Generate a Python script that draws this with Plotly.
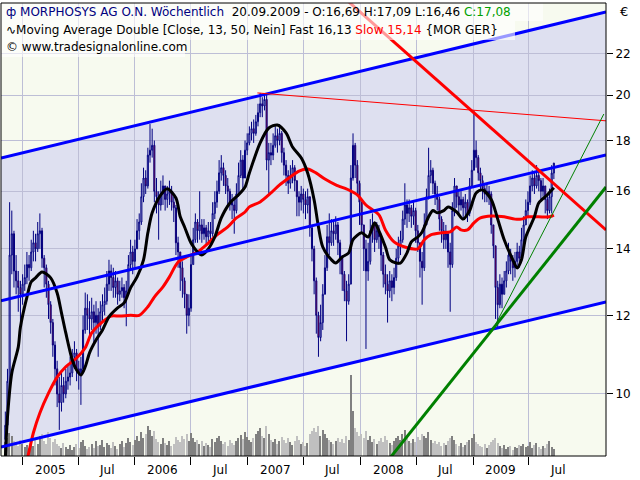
import math
import pandas as pd
import plotly.graph_objects as go

# ---------------- data ----------------
last_week = "2009-09-20"
n_weeks = 255
dates = pd.date_range(end=last_week, periods=n_weeks, freq="7D")

opens = [
    9.0, 9.3, 10.3, 13.8, 14.5, 13.3, 13.0, 12.8, 12.6, 12.9,
    13.1, 13.5, 13.4, 13.9, 14.2, 14.0, 14.5, 14.6, 13.7, 13.4,
    12.9, 12.3, 11.8, 11.2, 10.6, 10.0, 9.8, 10.2, 10.0, 10.3,
    10.4, 10.5, 10.9, 11.0, 10.6, 10.5, 10.6, 11.6, 12.2, 12.0,
    11.9, 12.1, 11.8, 12.0, 11.7, 12.1, 12.3, 12.4, 12.9, 13.3,
    13.1, 12.8, 13.0, 12.6, 12.7, 12.8, 12.5, 12.7, 13.5, 13.9,
    13.6, 14.0, 14.6, 14.9, 15.8, 16.5, 16.2, 17.4, 17.6, 17.8,
    16.0, 15.8, 15.5, 15.9, 16.2, 15.7, 15.9, 16.0, 15.6, 15.4,
    14.2, 13.9, 13.4, 13.0, 12.6, 12.0, 12.2, 13.5, 14.3, 14.9,
    14.6, 14.8, 14.5, 14.7, 14.4, 14.6, 14.5, 15.2, 15.6, 16.0,
    16.7, 16.9, 16.6, 16.2, 16.0, 15.6, 15.5, 15.3, 15.9, 16.6,
    17.2, 16.5, 17.6, 17.9, 18.3, 18.5, 18.3, 18.8, 19.2, 19.6,
    19.5, 19.8, 17.2, 17.5, 17.4, 17.8, 18.2, 18.0, 18.3, 17.5,
    17.0, 16.6, 16.3, 16.6, 16.9, 16.4, 15.8, 15.6, 15.9, 15.7,
    15.5, 15.8, 14.7, 14.0, 13.0, 12.0, 11.4, 11.8, 12.6, 13.4,
    14.4, 14.2, 14.6, 14.5, 14.8, 14.2, 13.7, 13.2, 12.7, 12.4,
    12.9, 16.5, 17.8, 17.0, 16.3, 15.6, 14.8, 14.0, 13.3, 13.6,
    14.6, 14.8, 14.3, 14.6, 14.4, 13.8, 13.2, 12.9, 12.7, 13.0,
    12.8, 13.1, 13.7, 14.1, 14.3, 15.0, 15.5, 15.2, 15.4, 15.1,
    15.3, 14.6, 14.2, 13.6, 13.4, 14.8, 15.8, 16.6, 16.8, 16.3,
    15.9, 15.7, 15.0, 14.6, 14.3, 14.5, 13.9, 13.5, 15.3, 16.2,
    15.8, 15.5, 15.7, 15.4, 15.6, 15.2, 16.2, 16.8, 17.6, 17.3,
    16.7, 16.4, 16.1, 15.9, 16.0, 15.9, 14.8, 14.1, 12.8, 12.3,
    12.9, 12.6, 13.0, 13.3, 13.8, 13.6, 13.4, 13.6, 13.9, 13.7,
    14.3, 14.8, 15.3, 15.6, 16.2, 16.5, 16.2, 16.6, 16.4, 16.0,
    16.2, 15.7, 15.3, 15.8, 16.69,
]
highs = [
    9.6, 10.6, 15.6, 15.3, 14.6, 13.8, 13.3, 13.0, 13.2, 13.5,
    13.9, 13.8, 14.3, 14.6, 14.5, 14.9, 15.2, 14.7, 13.8, 13.5,
    13.0, 12.4, 11.9, 11.3, 10.8, 10.4, 10.5, 10.4, 10.6, 10.7,
    10.9, 11.1, 11.3, 11.1, 10.8, 10.9, 12.0, 12.65, 12.6, 12.4,
    12.5, 12.3, 12.4, 12.2, 12.4, 12.6, 12.8, 13.3, 13.65, 13.5,
    13.4, 13.3, 13.1, 13.0, 13.1, 12.9, 13.0, 13.8, 14.3, 14.1,
    14.3, 15.0, 15.2, 16.3, 16.9, 16.8, 17.7, 18.7, 18.5, 18.0,
    16.5, 16.0, 16.4, 16.6, 16.2, 16.2, 16.4, 16.2, 15.8, 15.5,
    14.4, 13.9, 13.6, 13.1, 12.6, 12.6, 13.8, 14.7, 15.2, 15.0,
    16.0, 15.0, 15.0, 14.8, 14.9, 14.9, 15.6, 16.0, 16.4, 17.2,
    17.4, 17.1, 16.8, 16.5, 16.1, 15.9, 15.8, 16.3, 17.1, 17.6,
    17.4, 18.0, 18.3, 18.6, 18.8, 18.9, 19.1, 19.6, 20.1, 19.9,
    20.0, 20.0, 17.9, 17.9, 18.3, 18.6, 18.5, 18.7, 18.4, 17.7,
    17.2, 16.8, 17.0, 17.2, 17.0, 16.4, 16.0, 16.2, 16.1, 16.0,
    16.1, 15.8, 14.8, 14.1, 13.1, 12.1, 12.3, 12.9, 13.8, 14.8,
    15.2, 15.0, 14.9, 15.1, 14.9, 14.3, 13.8, 13.3, 13.0, 13.2,
    17.0, 18.3, 17.9, 17.2, 16.4, 15.6, 14.8, 14.3, 14.2, 15.0,
    15.2, 14.9, 14.9, 14.8, 14.5, 13.9, 13.5, 13.2, 13.3, 13.2,
    13.4, 14.0, 14.4, 14.6, 15.3, 16.3, 15.7, 15.7, 15.5, 15.6,
    15.4, 14.8, 14.2, 13.9, 15.2, 16.1, 17.7, 17.2, 16.9, 16.4,
    16.2, 15.8, 15.1, 14.9, 14.8, 14.5, 14.2, 15.6, 16.5, 16.2,
    16.0, 16.0, 15.8, 15.9, 15.7, 16.5, 17.2, 19.3, 18.0, 17.4,
    16.9, 16.6, 16.3, 16.3, 16.2, 16.0, 14.8, 14.1, 13.0, 13.2,
    13.1, 13.3, 13.6, 14.2, 14.0, 13.8, 13.9, 14.2, 14.1, 14.7,
    15.1, 15.7, 16.0, 16.6, 16.8, 16.7, 17.0, 16.8, 16.5, 16.5,
    16.2, 15.9, 16.1, 17.0, 17.09,
]
lows = [
    8.8, 9.2, 10.3, 13.2, 12.8, 12.6, 12.1, 11.8, 12.3, 12.7,
    12.9, 13.0, 13.3, 13.6, 13.6, 13.9, 14.0, 13.4, 12.8, 12.5,
    11.9, 11.5, 10.9, 10.2, 9.7, 9.2, 9.6, 9.8, 9.9, 10.1,
    10.2, 10.4, 10.6, 10.3, 10.1, 9.75, 10.5, 11.5, 11.6, 11.4,
    11.6, 11.2, 11.5, 10.9, 11.6, 11.8, 12.0, 12.3, 12.7, 12.7,
    12.5, 12.5, 12.3, 12.4, 12.5, 12.2, 11.7, 12.6, 13.3, 13.2,
    13.4, 14.0, 14.3, 14.8, 15.6, 15.9, 16.1, 17.1, 17.3, 15.6,
    15.2, 14.3, 15.3, 15.5, 15.3, 15.4, 15.5, 15.3, 14.9, 13.8,
    13.4, 12.7, 12.5, 12.2, 11.5, 11.7, 12.1, 13.5, 14.2, 14.2,
    14.3, 14.2, 14.3, 14.1, 14.2, 14.2, 14.4, 15.0, 15.4, 15.9,
    16.4, 16.2, 15.9, 15.5, 15.3, 15.0, 14.5, 15.2, 15.8, 16.5,
    16.0, 16.5, 17.4, 17.8, 18.0, 17.9, 18.2, 18.6, 19.0, 19.0,
    19.3, 16.8, 15.9, 17.0, 17.2, 17.7, 17.5, 17.8, 17.1, 16.6,
    16.2, 15.9, 16.1, 16.3, 16.0, 15.1, 15.1, 15.3, 15.2, 15.0,
    15.2, 14.4, 13.6, 12.6, 11.5, 10.9, 11.3, 11.6, 12.6, 13.3,
    13.8, 14.1, 14.1, 14.3, 13.8, 13.2, 12.7, 12.4, 11.3, 12.3,
    12.9, 16.4, 16.5, 15.9, 14.8, 14.5, 13.3, 11.1, 13.0, 13.5,
    14.2, 13.9, 14.2, 14.0, 13.3, 12.8, 12.6, 11.8, 12.5, 12.4,
    12.6, 13.0, 13.5, 13.8, 14.2, 14.8, 14.7, 14.9, 14.7, 14.8,
    14.2, 13.9, 13.1, 12.3, 13.3, 14.8, 15.7, 16.3, 15.9, 15.5,
    15.3, 14.6, 14.2, 14.0, 14.0, 13.4, 12.1, 13.4, 15.1, 15.4,
    15.2, 15.3, 15.0, 15.1, 14.9, 15.1, 16.2, 16.8, 16.9, 16.4,
    16.0, 15.7, 15.6, 15.6, 15.5, 14.5, 13.7, 11.9, 11.65, 12.2,
    12.2, 12.6, 12.8, 13.2, 13.2, 13.0, 13.1, 13.4, 13.4, 13.7,
    14.2, 14.8, 15.1, 15.5, 16.0, 15.9, 16.1, 16.0, 15.7, 15.8,
    15.2, 15.0, 15.2, 15.2, 16.46,
]
closes = [
    9.3, 10.3, 13.8, 14.5, 13.3, 13.0, 12.8, 12.6, 12.9, 13.1,
    13.5, 13.4, 13.9, 14.2, 14.0, 14.5, 14.6, 13.7, 13.4, 12.9,
    12.3, 11.8, 11.2, 10.6, 10.0, 9.8, 10.2, 10.0, 10.3, 10.4,
    10.5, 10.9, 11.0, 10.6, 10.5, 10.6, 11.6, 12.2, 12.0, 11.9,
    12.1, 11.8, 12.0, 11.7, 12.1, 12.3, 12.4, 12.9, 13.3, 13.1,
    12.8, 13.0, 12.6, 12.7, 12.8, 12.5, 12.7, 13.5, 13.9, 13.6,
    14.0, 14.6, 14.9, 15.8, 16.5, 16.2, 17.4, 17.6, 17.8, 16.0,
    15.8, 15.5, 15.9, 16.2, 15.7, 15.9, 16.0, 15.6, 15.4, 14.2,
    13.9, 13.4, 13.0, 12.6, 12.0, 12.2, 13.5, 14.3, 14.9, 14.6,
    14.8, 14.5, 14.7, 14.4, 14.6, 14.5, 15.2, 15.6, 16.0, 16.7,
    16.9, 16.6, 16.2, 16.0, 15.6, 15.5, 15.3, 15.9, 16.6, 17.2,
    16.5, 17.6, 17.9, 18.3, 18.5, 18.3, 18.8, 19.2, 19.6, 19.5,
    19.8, 17.2, 17.5, 17.4, 17.8, 18.2, 18.0, 18.3, 17.5, 17.0,
    16.6, 16.3, 16.6, 16.9, 16.4, 15.8, 15.6, 15.9, 15.7, 15.5,
    15.8, 14.7, 14.0, 13.0, 12.0, 11.4, 11.8, 12.6, 13.4, 14.4,
    14.2, 14.6, 14.5, 14.8, 14.2, 13.7, 13.2, 12.7, 12.4, 12.9,
    16.5, 17.8, 17.0, 16.3, 15.6, 14.8, 14.0, 13.3, 13.6, 14.6,
    14.8, 14.3, 14.6, 14.4, 13.8, 13.2, 12.9, 12.7, 13.0, 12.8,
    13.1, 13.7, 14.1, 14.3, 15.0, 15.5, 15.2, 15.4, 15.1, 15.3,
    14.6, 14.2, 13.6, 13.4, 14.8, 15.8, 16.6, 16.8, 16.3, 15.9,
    15.7, 15.0, 14.6, 14.3, 14.5, 13.9, 13.5, 15.3, 16.2, 15.8,
    15.5, 15.7, 15.4, 15.6, 15.2, 16.2, 16.8, 17.6, 17.3, 16.7,
    16.4, 16.1, 15.9, 16.0, 15.9, 14.8, 14.1, 12.8, 12.3, 12.9,
    12.6, 13.0, 13.3, 13.8, 13.6, 13.4, 13.6, 13.9, 13.7, 14.3,
    14.8, 15.3, 15.6, 16.2, 16.5, 16.2, 16.6, 16.4, 16.0, 16.2,
    15.7, 15.3, 15.8, 16.69, 17.08,
]
volume_k = [
    140, 180, 230, 200, 150, 120, 100, 160, 120, 90,
    110, 80, 130, 100, 170, 120, 200, 220, 150, 120,
    240, 180, 140, 170, 120, 100, 80, 130, 90, 70,
    110, 60, 90, 120, 80, 140, 160, 100, 70, 90,
    120, 80, 150, 100, 110, 160, 90, 130, 110, 80,
    140, 100, 70, 120, 150, 90, 130, 180, 140, 110,
    160, 200, 150, 240, 180, 220, 300, 260, 200, 250,
    170, 140, 120, 180, 130, 110, 150, 100, 120, 190,
    160, 140, 200, 170, 220, 150, 230, 180, 140, 160,
    120, 150, 100, 130, 110, 90, 170, 140, 180, 200,
    150, 120, 140, 100, 160, 130, 110, 150, 180, 210,
    170, 240, 190, 160, 140, 180, 220, 250, 280, 200,
    180, 300, 220, 160, 140, 170, 120, 150, 190, 160,
    130, 180, 140, 110, 150, 200, 160, 120, 140, 100,
    130, 220, 250, 280, 240, 300, 200, 260, 220, 180,
    160, 140, 120, 150, 180, 140, 170, 130, 200, 160,
    810, 450, 280, 240, 200, 220, 180, 250, 160, 200,
    140, 170, 120, 150, 180, 140, 200, 160, 130, 110,
    150, 180, 200, 160, 220, 260, 180, 150, 130, 170,
    140, 190, 160, 220, 200, 180, 240, 160, 130, 150,
    120, 140, 100, 130, 110, 150, 180, 200, 160, 120,
    100, 130, 90, 110, 140, 160, 180, 220, 140, 120,
    100, 90, 120, 80, 110, 140, 160, 180, 130, 100,
    80, 110, 70, 90, 100, 60, 90, 80, 110, 100,
    120, 90, 100, 140, 80, 110, 130, 90, 70, 100,
    80, 120, 150, 90, 70,
]

# moving averages (week index, value)
fast_idx = [0, 1, 3, 6, 7, 10, 12, 14, 17, 21, 24, 26, 28, 31, 33, 35, 37, 39, 42, 45,
            48, 52, 55, 58, 61, 64, 66, 68, 72, 75, 79, 81, 83, 86, 89, 91, 94, 97, 100, 104,
            108, 111, 113, 118, 122, 126, 130, 133, 137, 140, 143, 145, 147, 151, 153, 156, 159, 161, 165, 168,
            171, 173, 176, 178, 181, 183, 186, 188, 191, 193, 196, 198, 200, 203, 205, 209, 212, 215, 218, 221,
            225, 228, 231, 235, 237, 239, 241, 245, 247, 251, 254]
fast_val = [8.6, 9.48, 10.50, 11.15, 11.68, 12.52, 12.97, 13.09, 13.27, 13.09, 12.64, 12.07, 11.52, 10.82, 10.57, 10.45, 10.65, 11.0, 11.33, 11.6,
            11.96, 12.21, 12.35, 12.79, 13.12, 13.65, 14.53, 15.22, 15.87, 16.09, 15.75, 15.08, 14.73, 14.19, 13.90, 13.80, 14.0, 14.39, 15.04, 15.57,
            15.87, 16.16, 16.69, 17.90, 18.53, 18.66, 18.32, 17.73, 17.29, 16.69, 15.68, 14.73, 14.06, 13.65, 13.55, 13.74, 13.87, 14.30, 14.53, 14.39,
            14.87, 14.6, 14.06, 13.65, 13.55, 13.55, 13.87, 14.23, 14.39, 14.56, 15.08, 15.3, 15.22, 15.3, 15.43, 15.25, 15.0, 15.3, 15.94, 16.05,
            15.7, 15.0, 14.3, 13.65, 13.39, 13.65, 14.39, 15.08, 15.57, 15.87, 16.13]
slow_idx = [10, 13, 16, 20, 24, 28, 33, 37, 40, 45, 49, 53, 58, 62, 66, 69, 73, 76, 80, 84,
            89, 94, 98, 103, 107, 111, 113, 118, 123, 127, 132, 136, 140, 144, 148, 153, 159, 163, 167, 173,
            176, 180, 185, 191, 194, 197, 202, 206, 209, 211, 214, 217, 220, 225, 231, 236, 239, 242, 247, 252, 254]
slow_val = [8.55, 9.14, 9.57, 10.02, 10.40, 10.65, 10.87, 11.13, 11.52, 11.82, 11.98, 11.98, 12.0, 12.0, 12.24, 12.52, 12.82, 13.12, 13.58, 13.74,
            13.90, 14.19, 14.46, 14.73, 15.04, 15.25, 15.43, 15.61, 15.94, 16.24, 16.54, 16.77, 16.85, 16.69, 16.46, 16.24, 16.05, 15.87, 15.50, 15.15,
            14.63, 14.23, 14.06, 14.0, 14.3, 14.46, 14.53, 14.56, 14.73, 14.63, 14.63, 14.87, 15.04, 15.11, 15.08, 15.0, 15.0, 15.08, 15.08, 15.08, 15.14]

# drawn trend lines: (dates, prices)
channel_upper = (["2004-10-24", "2010-03-08"], [17.28, 24.25])
channel_mid = (["2004-10-24", "2010-03-08"], [12.41, 17.41])
channel_lower = (["2004-10-24", "2010-03-08"], [8.84, 12.38])
resist_thick = (["2007-06-19", "2010-03-08"], [27.46, 14.63])
resist_thin = (["2007-02-02", "2010-03-08"], [20.10, 18.84])
support_thick = (["2008-03-05", "2010-03-08"], [8.37, 16.16])
support_thin = (["2009-03-03", "2010-03-01"], [11.55, 19.14])

x_bounds = ["2005-01-01", "2005-07-01", "2006-01-01", "2006-07-01", "2007-01-01",
            "2007-07-01", "2008-01-01", "2008-07-01", "2009-01-01", "2009-07-01"]
x_label_pos = ["2005-04-01", "2005-10-01", "2006-04-01", "2006-10-01", "2007-04-01",
               "2007-10-01", "2008-04-01", "2008-10-01", "2009-04-01", "2009-10-01"]
x_labels = ["2005", "Jul", "2006", "Jul", "2007", "Jul", "2008", "Jul", "2009", "Jul"]
y_ticks = [10, 12, 14, 16, 18, 20, 22]

x_range = ["2004-10-24", "2010-03-08"]
y_range = [8.66, 24.76]

# ---------------- styling ----------------
FONT = "DejaVu Sans"
BG = "#F7FAEF"
LAV = "#DEE0F0"
GRID = "#BDBED6"
NAVY = "#000080"

fig = go.Figure()

vol_colors = ["#808080" if c >= o else "#C0C0C0" for o, c in zip(opens, closes)]
fig.add_trace(go.Bar(x=dates, y=volume_k, marker=dict(color=vol_colors, line=dict(width=0)),
                     width=4.5 * 86400000, yaxis="y", hoverinfo="skip"))

fig.add_trace(go.Candlestick(
    x=dates, open=opens, high=highs, low=lows, close=closes, yaxis="y2",
    increasing=dict(line=dict(color=NAVY, width=1), fillcolor="rgba(0,0,0,0)"),
    decreasing=dict(line=dict(color=NAVY, width=1), fillcolor="#FF0000"),
    whiskerwidth=0,
))

def line(xy, color, width):
    fig.add_trace(go.Scatter(x=xy[0], y=xy[1], mode="lines", yaxis="y2",
                             line=dict(color=color, width=width), hoverinfo="skip"))

fig.add_trace(go.Scatter(x=[dates[i] for i in slow_idx], y=slow_val, mode="lines", yaxis="y2",
                         line=dict(color="#FF0000", width=3, shape="spline", smoothing=0.8)))
fig.add_trace(go.Scatter(x=[dates[i] for i in fast_idx], y=fast_val, mode="lines", yaxis="y2",
                         line=dict(color="#000000", width=3, shape="spline", smoothing=0.8)))

line(channel_upper, "#0000FF", 3)
line(channel_mid, "#0000FF", 3)
line(channel_lower, "#0000FF", 3)
line(resist_thin, "#FF0000", 1)
line(support_thin, "#008000", 1)
line(resist_thick, "#FF0000", 3)
line(support_thick, "#008000", 3)

L10 = math.log10
fill_path = (f"M {channel_upper[0][0]},{channel_upper[1][0]} "
             f"L {channel_upper[0][1]},{channel_upper[1][1]} "
             f"L {channel_lower[0][1]},{channel_lower[1][1]} "
             f"L {channel_lower[0][0]},{channel_lower[1][0]} Z")

PW, PH = 605.0, 453.0
def px(xp):
    return (xp - 1) / PW
def py(yp):
    return (456 - yp) / PH

shapes = [
    dict(type="path", path=fill_path, xref="x", yref="y2", fillcolor=LAV,
         line=dict(width=0), layer="below"),
    dict(type="rect", xref="paper", yref="paper", x0=px(0), x1=px(543), y0=py(21), y1=py(3),
         fillcolor="rgba(255,255,255,0.6)", line=dict(width=0), layer="above"),
    dict(type="rect", xref="paper", yref="paper", x0=px(0), x1=px(515), y0=py(40), y1=py(21),
         fillcolor="rgba(255,255,255,0.6)", line=dict(width=0), layer="above"),
    dict(type="rect", xref="paper", yref="paper", x0=px(0), x1=px(185), y0=py(57), y1=py(40),
         fillcolor="rgba(255,255,255,0.6)", line=dict(width=0), layer="above"),
    dict(type="rect", xref="paper", yref="paper", x0=0, x1=1, y0=0, y1=1,
         line=dict(color="#000000", width=1), fillcolor="rgba(0,0,0,0)", layer="above"),
]

def fmt(v):
    return f"{v:.2f}".replace(".", ",")

line1 = (f"<span style='color:{NAVY}'>ф MORPHOSYS AG O.N. Wöchentlich</span>  "
         f"20.09.2009 - O:{fmt(opens[-1])} H:{fmt(highs[-1])} L:{fmt(lows[-1])} "
         f"<span style='color:#00A000'>C:{fmt(closes[-1])}</span>")
line2 = (f"∿Moving Average Double [Close, 13, 50, Nein] Fast {fmt(fast_val[-1])} "
         f"<span style='color:#FF0000'>Slow {fmt(slow_val[-1])}</span> {{MOR GER}}")
line3 = "© www.tradesignalonline.com"

annotations = []
for txt, yy in [(line1, 12), (line2, 30), (line3, 47)]:
    annotations.append(dict(text=txt, xref="paper", yref="paper", x=0, y=py(yy), xanchor="left",
                            yanchor="middle", xshift=3, showarrow=False,
                            font=dict(family=FONT, size=12, color="#000000")))
for pos, lab in zip(x_label_pos, x_labels):
    annotations.append(dict(text=lab, xref="x", yref="paper", x=pos, y=0, yanchor="middle",
                            yshift=-14, showarrow=False,
                            font=dict(family=FONT, size=12, color="#000000")))
annotations.append(dict(text="€", xref="paper", yref="paper", x=1, y=py(12), xanchor="left",
                        yanchor="middle", xshift=12, showarrow=False,
                        font=dict(family=FONT, size=13, color="#000000")))

fig.update_layout(
    width=640, height=480,
    margin=dict(l=1, r=34, t=3, b=24),
    paper_bgcolor="#FFFFFF", plot_bgcolor=BG,
    showlegend=False,
    shapes=shapes, annotations=annotations,
    font=dict(family=FONT, size=12, color="#000000"),
    xaxis=dict(type="date", range=x_range, rangeslider=dict(visible=False),
               tickvals=x_bounds, ticktext=[""] * len(x_bounds),
               ticks="outside", ticklen=8, tickcolor="#000000",
               showgrid=True, gridcolor=GRID, gridwidth=1, zeroline=False,
               showline=False),
    yaxis=dict(range=[0, 4530], visible=False, fixedrange=True),
    yaxis2=dict(type="log", range=[L10(y_range[0]), L10(y_range[1])], overlaying="y", side="right",
                anchor="x", tickvals=y_ticks, ticktext=[str(v) for v in y_ticks],
                ticks="outside", ticklen=6, tickcolor="#000000",
                tickfont=dict(family=FONT, size=12, color="#000000"),
                showgrid=True, gridcolor=GRID, gridwidth=1, zeroline=False, showline=False),
    bargap=0,
)

fig.write_html("out.html", config={"displayModeBar": False},
               post_script="document.body.style.margin='0';document.body.style.overflow='hidden';")
